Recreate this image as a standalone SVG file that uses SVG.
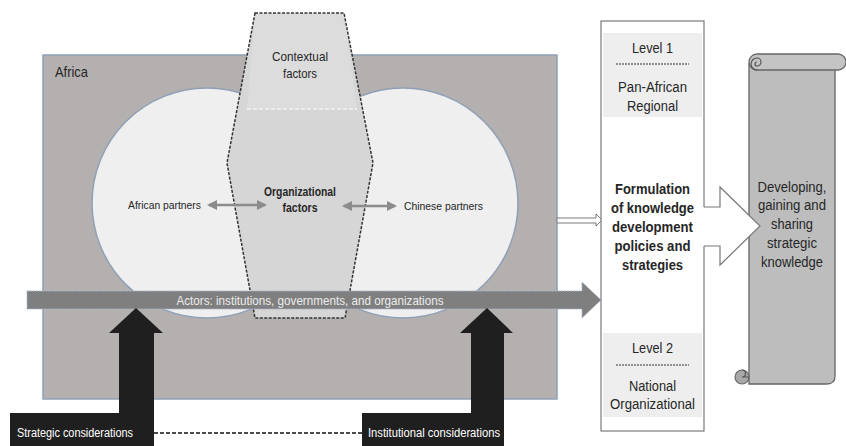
<svg xmlns="http://www.w3.org/2000/svg" width="846" height="446" viewBox="0 0 846 446">
<defs>
<style>
text{font-family:"Liberation Sans",Arial,sans-serif;fill:#262626}
.c{text-anchor:middle}
.b{font-weight:bold}
.w{fill:#ffffff}
.dbl{stroke:#8c8c8c;stroke-width:2.5;fill:none}
</style>
<marker id="ah" viewBox="0 0 10 10" refX="8" refY="5" markerWidth="4" markerHeight="4" orient="auto-start-reverse">
<path d="M0,0 L10,5 L0,10 z" fill="#8c8c8c"/>
</marker>
</defs>
<rect width="846" height="446" fill="#ffffff"/>

<g id="africa">
<rect x="43" y="55" width="514" height="344" fill="#b4b0af" stroke="#8fa0b5" stroke-width="1.5"/>
<text x="55" y="77" font-size="15" textLength="33" lengthAdjust="spacingAndGlyphs">Africa</text>
</g>

<g id="african-partners">
<circle cx="207" cy="203" r="115" fill="#efeff0" stroke="#8fa0b5" stroke-width="1.5"/>
<text x="128" y="209" font-size="11.5" textLength="73" lengthAdjust="spacingAndGlyphs">African partners</text>
</g>

<g id="chinese-partners">
<circle cx="403" cy="203" r="115" fill="#efeff0" stroke="#8fa0b5" stroke-width="1.5"/>
<text x="404" y="210" font-size="11.5" textLength="79" lengthAdjust="spacingAndGlyphs">Chinese partners</text>
</g>

<g id="factors">
<polygon points="255,13 344,13 373,163 345,318 255,318 227,163" fill="#d6d6d7"/>
<polygon points="255,13 344,13 357,109 247,109" fill="#dcdcdd"/>
<line x1="247" y1="109" x2="357" y2="109" stroke="#ffffff" stroke-width="1.2" stroke-dasharray="4,2"/>
<polygon points="255,13 344,13 373,163 345,318 255,318 227,163" fill="none" stroke="#333333" stroke-width="1.5" stroke-dasharray="3,1.5"/>
<text class="c" x="300" y="61" font-size="13.5" textLength="56" lengthAdjust="spacingAndGlyphs">Contextual</text>
<text class="c" x="300" y="78" font-size="13.5" textLength="34" lengthAdjust="spacingAndGlyphs">factors</text>
<text class="c b" x="300" y="196" font-size="12" textLength="72" lengthAdjust="spacingAndGlyphs">Organizational</text>
<text class="c b" x="300" y="212" font-size="12" textLength="35" lengthAdjust="spacingAndGlyphs">factors</text>
</g>

<g id="connectors">
<line class="dbl" x1="209" y1="205" x2="265" y2="205" marker-start="url(#ah)" marker-end="url(#ah)"/>
<line class="dbl" x1="344" y1="206" x2="395" y2="206" marker-start="url(#ah)" marker-end="url(#ah)"/>
<path d="M557,218 L596,218 L596,214 L602,220 L596,226 L596,223 L557,223 Z" fill="#ffffff" stroke="#7a7a7a" stroke-width="1"/>
<line x1="154" y1="433" x2="362" y2="433" stroke="#111111" stroke-width="1.3" stroke-dasharray="4,2"/>
</g>

<g id="actors">
<path d="M27,291 L582,291 L582,282 L601,300 L582,318 L582,309 L27,309 Z" fill="#7f7f7f" stroke="#a9b5c6" stroke-width="1" stroke-dasharray="2,1"/>
<text class="w c" x="310" y="305" font-size="13" textLength="267" lengthAdjust="spacingAndGlyphs" style="fill:#ececec">Actors: institutions, governments, and organizations</text>
</g>

<g id="strategic">
<path d="M136,308 L163,333 L154,333 L154,446 L10,446 L10,413 L119,413 L119,333 L109,333 Z" fill="#1f1f1f"/>
<text class="w" x="17" y="437" font-size="12" textLength="116" lengthAdjust="spacingAndGlyphs">Strategic considerations</text>
</g>

<g id="institutional">
<path d="M487,308 L513,333 L504,333 L504,446 L362,446 L362,413 L471,413 L471,333 L460,333 Z" fill="#1f1f1f"/>
<text class="w" x="368" y="437" font-size="12" textLength="132" lengthAdjust="spacingAndGlyphs">Institutional considerations</text>
</g>

<g id="levels">
<rect x="601" y="21" width="103" height="410" fill="#ffffff" stroke="#7a7a7a" stroke-width="1.2"/>
<rect x="603" y="33" width="99" height="84" fill="#eeeeee"/>
<rect x="603" y="333" width="99" height="84" fill="#eeeeee"/>
<text class="c" x="652.5" y="53" font-size="14" textLength="41" lengthAdjust="spacingAndGlyphs">Level 1</text>
<line x1="616" y1="64" x2="689" y2="64" stroke="#333333" stroke-width="1" stroke-dasharray="2,1"/>
<text class="c" x="652.5" y="92" font-size="14" textLength="69" lengthAdjust="spacingAndGlyphs">Pan-African</text>
<text class="c" x="652.5" y="111" font-size="14" textLength="51" lengthAdjust="spacingAndGlyphs">Regional</text>
<text class="c b" x="652.5" y="194" font-size="14" textLength="75" lengthAdjust="spacingAndGlyphs">Formulation</text>
<text class="c b" x="652.5" y="213" font-size="14" textLength="83" lengthAdjust="spacingAndGlyphs">of knowledge</text>
<text class="c b" x="652.5" y="232" font-size="14" textLength="81" lengthAdjust="spacingAndGlyphs">development</text>
<text class="c b" x="652.5" y="251" font-size="14" textLength="76" lengthAdjust="spacingAndGlyphs">policies and</text>
<text class="c b" x="652.5" y="270" font-size="14" textLength="61" lengthAdjust="spacingAndGlyphs">strategies</text>
<text class="c" x="652.5" y="353" font-size="14" textLength="41" lengthAdjust="spacingAndGlyphs">Level 2</text>
<line x1="616" y1="365" x2="689" y2="365" stroke="#333333" stroke-width="1" stroke-dasharray="2,1"/>
<text class="c" x="652.5" y="391" font-size="14" textLength="47" lengthAdjust="spacingAndGlyphs">National</text>
<text class="c" x="652.5" y="409" font-size="14" textLength="85" lengthAdjust="spacingAndGlyphs">Organizational</text>
</g>

<g id="knowledge">
<path d="M749,64 L749,384 L827,384 Q835,384 835,376 L835,64 Z" fill="#bdbdbd" stroke="#666666" stroke-width="1.3"/>
<rect x="749" y="54" width="97" height="16" rx="8" fill="#c4c4c4" stroke="#666666" stroke-width="1.3"/>
<path d="M757,70 A6,6 0 0 1 757,58 A4,4 0 0 1 757,66 A2,2 0 0 1 757,62" fill="none" stroke="#555555" stroke-width="1.2"/>
<circle cx="742" cy="377" r="7" fill="#a8a8a8" stroke="#666666" stroke-width="1.2"/>
<path d="M742,370 A3.5,3.5 0 0 1 742,377 L749,377" fill="none" stroke="#555555" stroke-width="1.2"/>
<text class="c" x="792" y="192" font-size="14" textLength="69" lengthAdjust="spacingAndGlyphs">Developing,</text>
<text class="c" x="792" y="210" font-size="14" textLength="68" lengthAdjust="spacingAndGlyphs">gaining and</text>
<text class="c" x="792" y="229" font-size="14" textLength="42" lengthAdjust="spacingAndGlyphs">sharing</text>
<text class="c" x="792" y="248" font-size="14" textLength="50" lengthAdjust="spacingAndGlyphs">strategic</text>
<text class="c" x="792" y="267" font-size="14" textLength="62" lengthAdjust="spacingAndGlyphs">knowledge</text>
</g>

<g id="output-arrow">
<polygon points="703,207 720,207 720,187 760,226 720,265 720,246 703,246" fill="#ffffff"/>
<polyline points="704,207 720,207 720,187 760,226 720,265 720,246 704,246" fill="none" stroke="#777777" stroke-width="1.2"/>
</g>
</svg>
